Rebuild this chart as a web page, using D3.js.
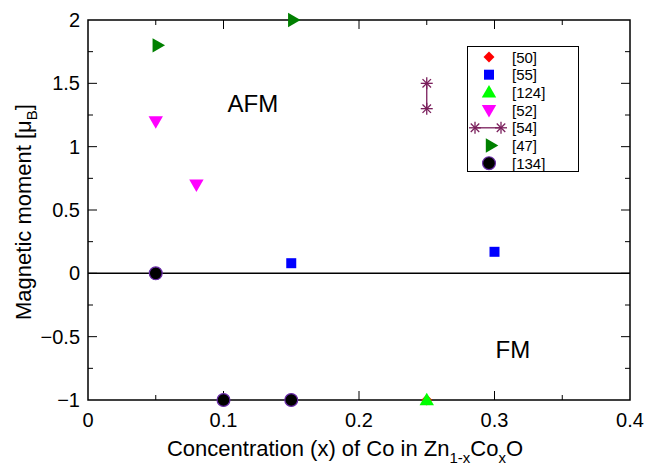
<!DOCTYPE html>
<html>
<head>
<meta charset="utf-8">
<script src="https://cdn.jsdelivr.net/npm/d3@7"></script>
<style>
  body { margin: 0; background: #fff; }
  text { font-family: "Liberation Sans", Arial, sans-serif; fill: #000; }
</style>
</head>
<body>
<div id="chart"></div>
<script>
// series, one array per reference
const ref50 = [[0.25, -1]];
const ref55 = [[0.15, 0.08], [0.30, 0.17]];
const ref124 = [[0.25, -1]];
const ref52 = [[0.05, 1.2], [0.08, 0.7]];
const ref54 = [[0.25, 1.5], [0.25, 1.3]];
const ref47 = [[0.05, 1.8], [0.15, 2.0]];
const ref134 = [[0.05, 0], [0.10, -1], [0.15, -1]];

const legendLabels = ["[50]", "[55]", "[124]", "[52]", "[54]", "[47]", "[134]"];
const xTicks = [0, 0.1, 0.2, 0.3, 0.4];
const yTicks = [-1, -0.5, 0, 0.5, 1, 1.5, 2];

const width = 647, height = 468;
const margin = {top: 20, right: 17, bottom: 68, left: 88};

const svg = d3.select("#chart").append("svg")
  .attr("width", width).attr("height", height);

const x = d3.scaleLinear().domain([0, 0.4]).range([margin.left, width - margin.right]);
const y = d3.scaleLinear().domain([-1, 2]).range([height - margin.bottom, margin.top]);

const g = svg.append("g");

// ticks (inside, mirrored)
const xMinor = d3.range(0.05, 0.4, 0.1);
const yMinor = d3.range(-0.75, 2, 0.5);
function tickLines(vals, len, horiz) {
  vals.forEach(v => {
    if (horiz) {
      g.append("line").attr("x1", x(v)).attr("x2", x(v)).attr("y1", y(-1)).attr("y2", y(-1) - len)
        .attr("stroke", "#000");
      g.append("line").attr("x1", x(v)).attr("x2", x(v)).attr("y1", y(2)).attr("y2", y(2) + len)
        .attr("stroke", "#000");
    } else {
      g.append("line").attr("y1", y(v)).attr("y2", y(v)).attr("x1", x(0)).attr("x2", x(0) + len)
        .attr("stroke", "#000");
      g.append("line").attr("y1", y(v)).attr("y2", y(v)).attr("x1", x(0.4)).attr("x2", x(0.4) - len)
        .attr("stroke", "#000");
    }
  });
}
tickLines(xTicks.slice(1, -1), 9, true);
tickLines(xMinor, 5, true);
tickLines(yTicks.slice(1, -1), 9, false);
tickLines(yMinor, 5, false);

// zero line
g.append("line").attr("x1", x(0)).attr("x2", x(0.4)).attr("y1", y(0)).attr("y2", y(0))
  .attr("stroke", "#000").attr("stroke-width", 1.5);

// frame
g.append("rect").attr("x", x(0)).attr("y", y(2))
  .attr("width", x(0.4) - x(0)).attr("height", y(-1) - y(2))
  .attr("fill", "none").attr("stroke", "#000").attr("stroke-width", 1.5);

// tick labels
g.selectAll(".xl").data(xTicks).join("text")
  .attr("x", d => x(d)).attr("y", y(-1) + 27)
  .attr("text-anchor", "middle").attr("font-size", 20)
  .text(d => d3.format("")(d));
g.selectAll(".yl").data(yTicks).join("text")
  .attr("x", x(0) - 8).attr("y", d => y(d) + 7)
  .attr("text-anchor", "end").attr("font-size", 20)
  .text(d => d3.format("")(d));

// axis titles
const xt = svg.append("text").attr("x", x(0.2) - 14).attr("y", 456)
  .attr("text-anchor", "middle").attr("font-size", 22);
xt.append("tspan").text("Concentration (x) of Co in Zn");
xt.append("tspan").attr("dy", 7).attr("font-size", 15).text("1-x");
xt.append("tspan").attr("dy", -7).text("Co");
xt.append("tspan").attr("dy", 7).attr("font-size", 15).text("x");
xt.append("tspan").attr("dy", -7).text("O");

const yt = svg.append("text").attr("transform", `translate(31,${y(0.5) + 2}) rotate(-90)`)
  .attr("text-anchor", "middle").attr("font-size", 22);
yt.append("tspan").text("Magnetic moment [\u03bc");
yt.append("tspan").attr("dy", 6).attr("font-size", 15).text("B");
yt.append("tspan").attr("dy", -6).text("]");

// region labels
svg.append("text").attr("x", x(0.1) + 4).attr("y", y(1.27)).attr("font-size", 24).text("AFM");
svg.append("text").attr("x", x(0.3) + 1).attr("y", y(-0.67)).attr("font-size", 24).text("FM");

// marker shapes
const sym = {
  diamond: d3.symbol(d3.symbolSquare, 60),
  square: d3.symbol(d3.symbolSquare, 100),
  up: d3.symbol(d3.symbolTriangle, 90),
  circle: d3.symbol(d3.symbolCircle, 130)
};
function drawMark(sel, kind, px, py) {
  if (kind === "diamond") {
    sel.append("path").attr("d", sym.diamond()).attr("transform", `translate(${px},${py}) rotate(45)`)
      .attr("fill", "#ff0000");
  } else if (kind === "square") {
    sel.append("path").attr("d", sym.square()).attr("transform", `translate(${px},${py})`)
      .attr("fill", "#0000ff");
  } else if (kind === "up") {
    sel.append("path").attr("d", sym.up()).attr("transform", `translate(${px},${py + 1})`)
      .attr("fill", "#00ff00");
  } else if (kind === "down") {
    sel.append("path").attr("d", sym.up()).attr("transform", `translate(${px},${py - 1}) rotate(180)`)
      .attr("fill", "#ff00ff");
  } else if (kind === "right") {
    sel.append("path").attr("d", sym.up()).attr("transform", `translate(${px + 1},${py}) rotate(90)`)
      .attr("fill", "#008000");
  } else if (kind === "circle") {
    sel.append("path").attr("d", sym.circle()).attr("transform", `translate(${px},${py})`)
      .attr("fill", "#000").attr("stroke", "#6a2ca8").attr("stroke-width", 1.2);
  } else if (kind === "star") {
    const s = sel.append("g").attr("transform", `translate(${px},${py})`)
      .attr("stroke", "#7a1f5c").attr("stroke-width", 1.3);
    [0, 45, 90, 135].forEach(a => {
      const r = 6, t = a * Math.PI / 180;
      s.append("line").attr("x1", -r * Math.cos(t)).attr("y1", -r * Math.sin(t))
        .attr("x2", r * Math.cos(t)).attr("y2", r * Math.sin(t));
    });
  }
}

const series = [
  {data: ref50, kind: "diamond"},
  {data: ref55, kind: "square"},
  {data: ref124, kind: "up"},
  {data: ref52, kind: "down"},
  {data: ref54, kind: "star", line: true},
  {data: ref47, kind: "right"},
  {data: ref134, kind: "circle"}
];

const marks = svg.append("g");
series.forEach(s => {
  if (s.line) {
    marks.append("path").datum(s.data)
      .attr("d", d3.line().x(d => x(d[0])).y(d => y(d[1])))
      .attr("fill", "none").attr("stroke", "#7a1f5c").attr("stroke-width", 1.3);
  }
});
series.forEach(s => {
  s.data.forEach(d => drawMark(marks, s.kind, x(d[0]), y(d[1])));
});

// legend
const lg = svg.append("g");
lg.append("rect").attr("x", 467.5).attr("y", 46.5).attr("width", 111).attr("height", 125)
  .attr("fill", "#fff").attr("stroke", "#000").attr("stroke-width", 1);
const rowStep = 17.7;
series.forEach((s, i) => {
  const cy = 57 + i * rowStep;
  if (s.line) {
    lg.append("line").attr("x1", 475).attr("x2", 501).attr("y1", cy).attr("y2", cy)
      .attr("stroke", "#7a1f5c").attr("stroke-width", 1.3);
    drawMark(lg, s.kind, 475, cy);
    drawMark(lg, s.kind, 501, cy);
  } else {
    drawMark(lg, s.kind, 489, cy);
  }
  lg.append("text").attr("x", 512).attr("y", cy + 5.5).attr("font-size", 15).text(legendLabels[i]);
});
</script>
</body>
</html>
